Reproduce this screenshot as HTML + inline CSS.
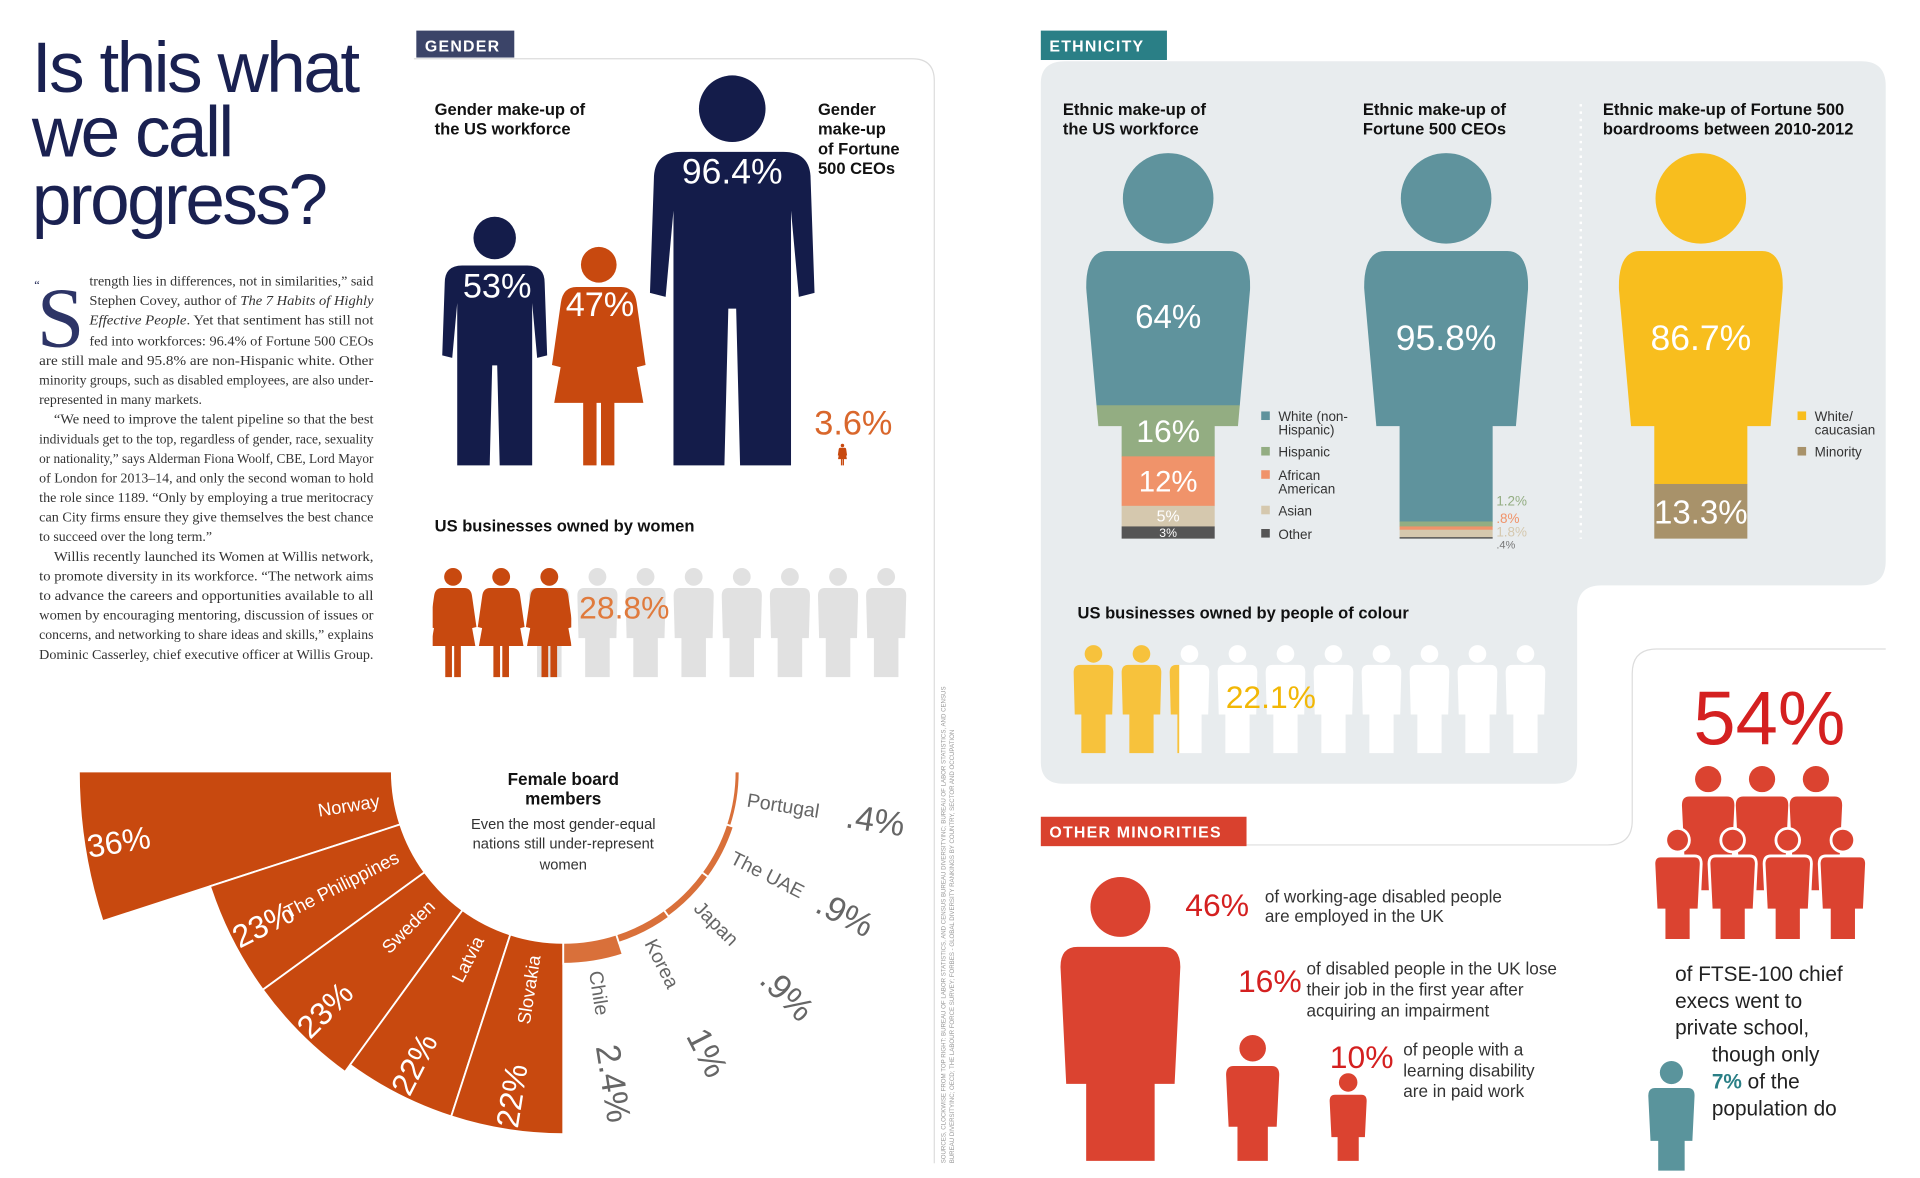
<!DOCTYPE html>
<html><head><meta charset="utf-8"><style>
html,body{margin:0;padding:0;background:#fff;}
svg{display:block;}
text{font-family:"Liberation Sans",sans-serif;}
.serif{font-family:"Liberation Serif",serif;}
</style></head><body>
<svg id="root" xmlns="http://www.w3.org/2000/svg" width="1920" height="1178" viewBox="0 0 1568 962" preserveAspectRatio="none">
<rect x="0" y="0" width="1568" height="962" fill="#ffffff"/>
<g fill="#1a2151" font-size="58" letter-spacing="-2">
<text x="26" y="75" style="font-family:'Liberation Sans Narrow','Liberation Sans',sans-serif">Is this what</text>
<text x="26" y="128" style="font-family:'Liberation Sans Narrow','Liberation Sans',sans-serif">we call</text>
<text x="26" y="183" style="font-family:'Liberation Sans Narrow','Liberation Sans',sans-serif">progress?</text>
</g>
<g class="serif" font-size="11.3" fill="#333">
<text class="serif" x="28" y="236" font-size="10" fill="#1a2151">“</text>
<text class="serif" x="30" y="283" font-size="70" fill="#2d3466">S</text>
<text class="serif" x="73" y="233" textLength="232" lengthAdjust="spacingAndGlyphs">trength lies in differences, not in similarities,” said</text>
<text class="serif" x="73" y="249" textLength="232" lengthAdjust="spacingAndGlyphs">Stephen Covey, author of <tspan font-style="italic">The 7 Habits of Highly</tspan></text>
<text class="serif" x="73" y="265" textLength="232" lengthAdjust="spacingAndGlyphs"><tspan font-style="italic">Effective People</tspan>. Yet that sentiment has still not</text>
<text class="serif" x="73" y="282" textLength="232" lengthAdjust="spacingAndGlyphs">fed into workforces: 96.4% of Fortune 500 CEOs</text>
<text class="serif" x="32" y="298" textLength="273" lengthAdjust="spacingAndGlyphs">are still male and 95.8% are non-Hispanic white. Other</text>
<text class="serif" x="32" y="314" textLength="273" lengthAdjust="spacingAndGlyphs">minority groups, such as disabled employees, are also under-</text>
<text class="serif" x="32" y="330">represented in many markets.</text>
<text class="serif" x="44" y="346" textLength="261" lengthAdjust="spacingAndGlyphs">“We need to improve the talent pipeline so that the best</text>
<text class="serif" x="32" y="362" textLength="273" lengthAdjust="spacingAndGlyphs">individuals get to the top, regardless of gender, race, sexuality</text>
<text class="serif" x="32" y="378" textLength="273" lengthAdjust="spacingAndGlyphs">or nationality,” says Alderman Fiona Woolf, CBE, Lord Mayor</text>
<text class="serif" x="32" y="394" textLength="273" lengthAdjust="spacingAndGlyphs">of London for 2013–14, and only the second woman to hold</text>
<text class="serif" x="32" y="410" textLength="273" lengthAdjust="spacingAndGlyphs">the role since 1189. “Only by employing a true meritocracy</text>
<text class="serif" x="32" y="426" textLength="273" lengthAdjust="spacingAndGlyphs">can City firms ensure they give themselves the best chance</text>
<text class="serif" x="32" y="442">to succeed over the long term.”</text>
<text class="serif" x="44" y="458" textLength="261" lengthAdjust="spacingAndGlyphs">Willis recently launched its Women at Willis network,</text>
<text class="serif" x="32" y="474" textLength="273" lengthAdjust="spacingAndGlyphs">to promote diversity in its workforce. “The network aims</text>
<text class="serif" x="32" y="490" textLength="273" lengthAdjust="spacingAndGlyphs">to advance the careers and opportunities available to all</text>
<text class="serif" x="32" y="506" textLength="273" lengthAdjust="spacingAndGlyphs">women by encouraging mentoring, discussion of issues or</text>
<text class="serif" x="32" y="522" textLength="273" lengthAdjust="spacingAndGlyphs">concerns, and networking to share ideas and skills,” explains</text>
<text class="serif" x="32" y="538" textLength="273" lengthAdjust="spacingAndGlyphs">Dominic Casserley, chief executive officer at Willis Group.</text>
</g>

<path d="M338 48 L745 48 Q763 48 763 66 L763 950" fill="none" stroke="#dcdcdc" stroke-width="1"/>
<rect x="340" y="25" width="80" height="22" fill="#3b4468"/>
<text x="347" y="42" font-size="13" font-weight="bold" fill="#fff" letter-spacing="1">GENDER</text>
<g font-size="13.5" font-weight="bold" fill="#111">
<text x="355" y="94">Gender make-up of</text><text x="355" y="110">the US workforce</text>
<text x="668" y="94">Gender</text><text x="668" y="110">make-up</text><text x="668" y="126">of Fortune</text><text x="668" y="142">500 CEOs</text>
<text x="355" y="434">US businesses owned by women</text>
</g>
<g id="gender"></g>

<g id="radial"></g>
<g text-anchor="middle" fill="#111">
<text x="460" y="641" font-size="14" font-weight="bold">Female board</text>
<text x="460" y="657" font-size="14" font-weight="bold">members</text>
<text x="460" y="677" font-size="12" fill="#333">Even the most gender-equal</text>
<text x="460" y="693" font-size="12" fill="#333">nations still under-represent</text>
<text x="460" y="710" font-size="12" fill="#333">women</text>
</g>
<g font-size="5" fill="#999">
<text transform="translate(772,950) rotate(-90)">SOURCES, CLOCKWISE FROM TOP RIGHT: BUREAU OF LABOR STATISTICS, AND CENSUS BUREAU DIVERSITYINC; BUREAU OF LABOR STATISTICS, AND CENSUS</text>
<text transform="translate(779,950) rotate(-90)">BUREAU DIVERSITYINC; OECD; THE LABOUR FORCE SURVEY; FORBES - GLOBAL DIVERSITY RANKINGS BY COUNTRY, SECTOR AND OCCUPATION</text>
</g>

<path d="M870 50 L1520 50 Q1540 50 1540 70 L1540 458 Q1540 478 1520 478 L1308 478 Q1288 478 1288 498 L1288 622 Q1288 640 1270 640 L868 640 Q850 640 850 622 L850 68 Q850 50 870 50 Z" fill="#e8ecee"/>
<rect x="850" y="25" width="103" height="24" fill="#2a7f86"/>
<text x="857" y="42" font-size="13" font-weight="bold" fill="#fff" letter-spacing="1">ETHNICITY</text>
<line x1="1291" y1="85" x2="1291" y2="440" stroke="#fff" stroke-width="2" stroke-dasharray="2,4"/>
<g font-size="13.5" font-weight="bold" fill="#111">
<text x="868" y="94">Ethnic make-up of</text><text x="868" y="110">the US workforce</text>
<text x="1113" y="94">Ethnic make-up of</text><text x="1113" y="110">Fortune 500 CEOs</text>
<text x="1309" y="94">Ethnic make-up of Fortune 500</text><text x="1309" y="110">boardrooms between 2010-2012</text>
<text x="880" y="505">US businesses owned by people of colour</text>
</g>
<g id="ethnic"></g>

<path d="M1018 690 L1313 690 Q1333 690 1333 670 L1333 550 Q1333 530 1353 530 L1540 530" fill="none" stroke="#dddddd" stroke-width="1"/>
<rect x="850" y="667" width="168" height="24" fill="#d9412e"/>
<text x="857" y="684" font-size="13" font-weight="bold" fill="#fff" letter-spacing="1">OTHER MINORITIES</text>
<g id="minor"></g>
<g font-size="14" fill="#333">
<text x="968" y="748" font-size="26" fill="#d42020">46%</text>
<text x="1033" y="737">of working-age disabled people</text><text x="1033" y="753">are employed in the UK</text>
<text x="1011" y="810" font-size="26" fill="#d42020">16%</text>
<text x="1067" y="796">of disabled people in the UK lose</text><text x="1067" y="813">their job in the first year after</text><text x="1067" y="830">acquiring an impairment</text>
<text x="1086" y="872" font-size="26" fill="#d42020">10%</text>
<text x="1146" y="862">of people with a</text><text x="1146" y="879">learning disability</text><text x="1146" y="896">are in paid work</text>
</g>
<g font-size="17" fill="#222">
<text x="1445" y="608" font-size="62" fill="#d42020" text-anchor="middle">54%</text>
<text x="1368" y="801">of FTSE-100 chief</text>
<text x="1368" y="823">execs went to</text>
<text x="1368" y="845">private school,</text>
<text x="1398" y="867">though only</text>
<text x="1398" y="889"><tspan fill="#2a7f86" font-weight="bold">7%</tspan> of the</text>
<text x="1398" y="911">population do</text>
</g>
</svg>
<script>
var NS='http://www.w3.org/2000/svg';
var genderLabels=['Men in US workforce','Women in US workforce','Male Fortune 500 CEOs','Female Fortune 500 CEOs'];
var genderValues=[53,47,96.4,3.6];
var womenOwnedValue=28.8;
var colourOwnedValue=22.1;
var radialLeftCountries=['Norway','The Philippines','Sweden','Latvia','Slovakia'];
var radialLeftValues=[36,23,23,22,22];
var radialRightCountries=['Chile','Korea','Japan','The UAE','Portugal'];
var radialRightValues=[2.4,1,0.9,0.9,0.4];
var radialRightLabels=['2.4%','1%','.9%','.9%','.4%'];
var ethnicCategories=['White (non-Hispanic)','Hispanic','African American','Asian','Other'];
var workforceValues=[64,16,12,5,3];
var ceoValues=[95.8,1.2,0.8,1.8,0.4];
var ceoLabels=['','1.2%','.8%','1.8%','.4%'];
var boardCategories=['White/caucasian','Minority'];
var boardValues=[86.7,13.3];
var disabilityValues=[46,16,10];
var ftseValue=54;

function mk(tag,parent){var e=document.createElementNS(NS,tag);parent.appendChild(e);return e;}
var SH={
 man:{cy:9,r:8.5,d:'M-13,20 Q-20,20 -20,27 L-21,56 L-17,57 L-15,35 L-15,100 L-2,100 L-1,60 L1,60 L2,100 L15,100 L15,35 L17,57 L21,56 L20,27 Q20,20 13,20 Z'},
 woman:{cy:10,r:8,d:'M-10,20 Q-16,20 -17,27 L-21,55 L-17,56 L-13,33 L-20,72 L-7,72 L-7,100 L-1,100 L-1,72 L1,72 L1,100 L7,100 L7,72 L20,72 L13,33 L17,56 L21,55 L17,27 Q16,20 10,20 Z'},
 plain:{cy:10,r:8,d:'M-12,20 Q-18,20 -18,27 L-17,65 L-11,65 L-11,100 L11,100 L11,65 L17,65 L18,27 Q18,20 12,20 Z'},
 block:{cy:11,r:10.5,d:'M-15,25 Q-21,25 -21,32 L-19,73 L-12,73 L-12,100 L12,100 L12,73 L19,73 L21,32 Q21,25 15,25 Z'}
};
function person(parent,shape,cx,top,h,fill){
 var g=mk('g',parent);var s=SH[shape];
 g.setAttribute('transform','translate('+cx+','+top+') scale('+(h/100)+')');
 g.setAttribute('fill',fill);
 var c=mk('circle',g);c.setAttribute('cx',0);c.setAttribute('cy',s.cy);c.setAttribute('r',s.r);
 var p=mk('path',g);p.setAttribute('d',s.d);
 return g;
}
function txt(parent,x,y,s,size,fill,anchor){var t=mk('text',parent);t.setAttribute('x',x);t.setAttribute('y',y);t.setAttribute('font-size',size);t.setAttribute('fill',fill);if(anchor)t.setAttribute('text-anchor',anchor);t.textContent=s;return t;}

var root=document.getElementById('root');
var defs=mk('defs',root);

// ---------- gender ----------
var gG=document.getElementById('gender');
var base=380;
var h1=204*genderValues[0]/53, h2=182*genderValues[1]/47, h3=320*genderValues[2]/96.4, h4=18*genderValues[3]/3.6;
var p1=person(gG,'man',404,base-h1,h1,'#141c4a');


var p2=person(gG,'woman',489,base-h2,h2,'#c8490f');


var p3=person(gG,'man',598,base-h3,h3,'#141c4a');


var p4=person(gG,'woman',688,base-h4,h4,'#c8490f');


var t=txt(gG,406,base-h1+67,genderValues[0]+'%',28,'#fff','middle');


t=txt(gG,490,base-h2+60,genderValues[1]+'%',28,'#fff','middle');


t=txt(gG,598,base-h3+90,genderValues[2]+'%',29,'#fff','middle');


t=txt(gG,665,355,genderValues[3]+'%',28,'#d9672c');



function row(parent,x0,step,top,h,baseShape,baseFill,fgShape,fgFill,value,clipId,label,lx,ly,lcolor){
 var n=10;
 var fullCount=Math.floor(value/10);
 for(var i=fullCount;i<n;i++){
  var b=person(parent,baseShape,x0+i*step,top,h,baseFill);
  
  
 }
 var cp=mk('clipPath',defs);cp.setAttribute('id',clipId);
 var r=mk('rect',cp);var left=x0-step/2+3;
 r.setAttribute('x',left);r.setAttribute('y',top-5);r.setAttribute('width',value/100*n*step);r.setAttribute('height',h+10);
 var fg=mk('g',parent);fg.setAttribute('clip-path','url(#'+clipId+')');
 
 
 var full=Math.ceil(value/10);
 for(var j=0;j<full;j++){
  var f=person(fg,fgShape,x0+j*step,top,h,fgFill);
  
  
 }
 var tt=txt(parent,lx,ly,label,26,lcolor);
 
 
}
row(gG,370,39.3,462,91,'plain','#e1e1e1','woman','#c8490f',womenOwnedValue,'clipW',womenOwnedValue+'%',473,505,'#e07a3c');

// ---------- radial ----------
var rG=document.getElementById('radial');
var cx=460,cy=630,rIn=140,k=7.1;
function P(phi,r){var a=phi*Math.PI/180;return [cx-r*Math.cos(a),cy+r*Math.sin(a)];}
function wedge(p1,p2,r1,r2,fill){
 var a=P(p1,r1),b=P(p1,r2),c=P(p2,r2),d=P(p2,r1);
 var p=mk('path',rG);
 p.setAttribute('d','M'+a+' L'+b+' A'+r2+' '+r2+' 0 0 0 '+c+' L'+d+' A'+r1+' '+r1+' 0 0 1 '+a+' Z');
 p.setAttribute('fill',fill);p.setAttribute('stroke','#fff');p.setAttribute('stroke-width','1.5');
 return p;
}
function rtext(s,phi,r,rot,size,fill,anchor){
 var q=P(phi,r);var tx=mk('text',rG);
 tx.setAttribute('transform','translate('+q[0]+','+q[1]+') rotate('+rot+')');
 tx.setAttribute('font-size',size);tx.setAttribute('fill',fill);tx.setAttribute('text-anchor',anchor);
 tx.setAttribute('dominant-baseline','central');tx.textContent=s;return tx;
}
var stepA=90/radialLeftValues.length;
radialLeftValues.forEach(function(v,i){
 var w=wedge(i*stepA,(i+1)*stepA,rIn,rIn+k*v,'#c8490f');
 
 
 var mid=(i+0.5)*stepA;
 var a=rtext(v+'%',mid,rIn+k*v-28,-mid,26,'#fff','middle');
 
 
 var b=rtext(radialLeftCountries[i],mid,rIn+12,-mid,15,'#fff','end');
 
 
});
radialRightValues.forEach(function(v,i){
 var ro=rIn+Math.max(k*v,4);
 var w=wedge(90+i*stepA,90+(i+1)*stepA,rIn,ro,'#d9703a');
 
 
 var mid=90+(i+0.5)*stepA;
 var b=rtext(radialRightCountries[i],mid,ro+8,180-mid,16,'#666','start');
 
 
 var a=rtext(radialRightLabels[i],mid,258,180-mid,28,'#666','middle');
 
 
});

// ---------- ethnicity ----------
var eG=document.getElementById('ethnic');
var ethColors=['#5f939d','#93ad82','#f0936a','#d5c8ae','#555555'];
var top0=205,waist=348,bot0=440,torsoW=130,legW=76;
var totalArea=torsoW*(waist-top0)+legW*(bot0-waist);
function yForPct(p){
 var a=totalArea*p/100;var ta=torsoW*(waist-top0);
 if(a<=ta) return top0+a/torsoW;
 return waist+(a-ta)/legW;
}
function silhouette(c){return 'M'+(c-50)+' '+top0+' Q'+(c-67)+' '+top0+' '+(c-67)+' '+(top0+30)+' L'+(c-57)+' '+waist+' L'+(c-38)+' '+waist+' L'+(c-38)+' '+bot0+' L'+(c+38)+' '+bot0+' L'+(c+38)+' '+waist+' L'+(c+57)+' '+waist+' L'+(c+67)+' '+(top0+30)+' Q'+(c+67)+' '+top0+' '+(c+50)+' '+top0+' Z';}
function stackFigure(c,values,colors,id){
 var g=mk('g',eG);
 var head=mk('circle',g);head.setAttribute('cx',c);head.setAttribute('cy',162);head.setAttribute('r',37);head.setAttribute('fill',colors[0]);
 var cp=mk('clipPath',defs);cp.setAttribute('id',id);
 var sp=mk('path',cp);sp.setAttribute('d',silhouette(c));
 var sg=mk('g',g);sg.setAttribute('clip-path','url(#'+id+')');
 var cum=0,ys=[];
 values.forEach(function(v,i){
  var y1=yForPct(cum);cum+=v;var y2=yForPct(cum);
  var r=mk('rect',sg);
  r.setAttribute('x',c-70);r.setAttribute('y',y1);r.setAttribute('width',140);r.setAttribute('height',y2-y1+0.3);r.setAttribute('fill',colors[i]);
  
  
  ys.push([y1,y2-y1]);
 });
 return {g:g,ys:ys};
}
var f1=stackFigure(954,workforceValues,ethColors,'clipE1');


var wSizes=[27,26,24,13,10];
workforceValues.forEach(function(v,i){
 var s=f1.ys[i];var yy=(i==0)?s[0]+s[1]*0.5:s[0]+s[1]/2+wSizes[i]*0.35;
 var tw=txt(eG,954,yy,v+'%',wSizes[i],'#fff','middle');
 
 
});
var f2=stackFigure(1181,ceoValues,ethColors,'clipE2');


var t2=txt(eG,1181,286,ceoValues[0]+'%',29,'#fff','middle');


var ceoLabelY=[0,413,427,438,448];
for(var i=1;i<ceoValues.length;i++){
 var tl=txt(eG,1222,ceoLabelY[i],ceoLabels[i],i==4?9:11,i==4?'#777':ethColors[i]);
 
 
}
var boardColors=['#f8be1e','#a8926a'];
var f3=stackFigure(1389,boardValues,boardColors,'clipE3');


var t3=txt(eG,1389,286,boardValues[0]+'%',29,'#fff','middle');


var t4=txt(eG,1389,f3.ys[1][0]+f3.ys[1][1]/2+10,boardValues[1]+'%',27,'#fff','middle');


var legWork=[['White (non-','Hispanic)'],['Hispanic'],['African','American'],['Asian'],['Other']];
var legY=[344,373,392,421,440];
legWork.forEach(function(l,i){
 var r=mk('rect',eG);r.setAttribute('x',1030);r.setAttribute('y',legY[i]-8);r.setAttribute('width',7);r.setAttribute('height',7);r.setAttribute('fill',ethColors[i]);
 
 
 l.forEach(function(s,j){
  var tz=txt(eG,1044,legY[i]+j*11,s,11,'#333');
  
  
 });
});
var legBoard=[['White/','caucasian'],['Minority']];
legBoard.forEach(function(l,i){
 var y=[344,373][i];
 var r=mk('rect',eG);r.setAttribute('x',1468);r.setAttribute('y',y-8);r.setAttribute('width',7);r.setAttribute('height',7);r.setAttribute('fill',boardColors[i]);
 
 
 l.forEach(function(s,j){
  var tz=txt(eG,1482,y+j*11,s,11,'#333');
  
  
 });
});
row(eG,893,39.2,525,90,'plain','#ffffff','plain','#f7c23c',colourOwnedValue,'clipC',colourOwnedValue+'%',1001,578,'#f2b705');

// ---------- other minorities ----------
var mG=document.getElementById('minor');
var red='#db4330';
var dX=[915,1023,1101];
disabilityValues.forEach(function(v,i){
 var h=233*Math.pow(v/disabilityValues[0],0.77);
 var g=person(mG,'block',dX[i],948-h,h,red);
 
 
});
var topRow=[1395,1439,1483],botRow=[1370,1415,1460,1505];
topRow.forEach(function(x){
 var g=person(mG,'block',x,625,102,red);
 
 
});
botRow.forEach(function(x){
 var g=person(mG,'block',x,676,92,red);g.setAttribute('stroke','#fff');g.setAttribute('stroke-width','2.5');
 
 
});
var tg=person(mG,'block',1365,866,90,'#5a949c');


</script>
</body></html>
